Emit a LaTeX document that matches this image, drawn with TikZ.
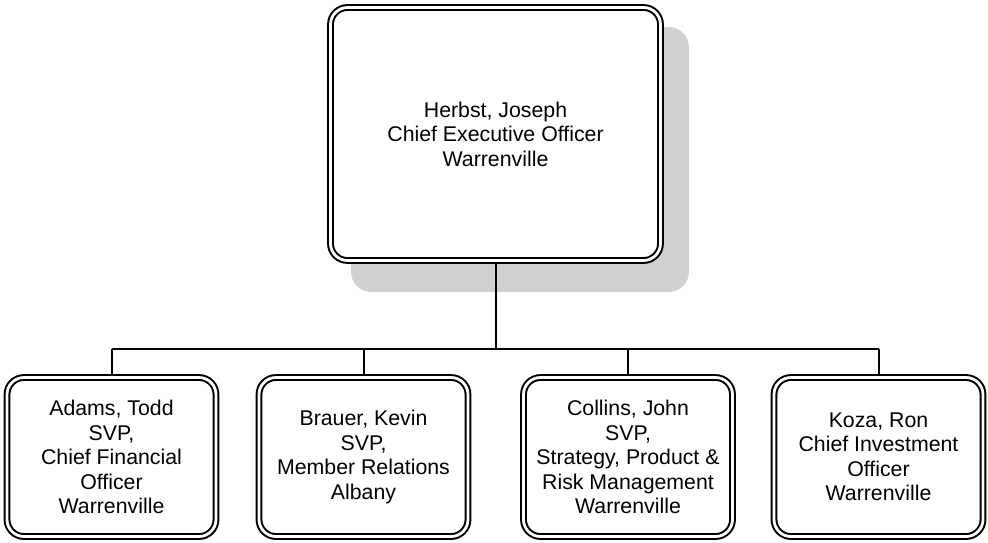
\documentclass[tikz,border=0pt]{standalone}
\usepackage{fontspec}
\setmainfont{Liberation Sans}
\usetikzlibrary{backgrounds,calc}
\definecolor{shadowgray}{HTML}{D0D0D0}
\begin{document}
\begin{tikzpicture}[x=1pt,y=-1pt,
  orgbox/.style={draw=black, double=white, double distance=2.8pt, line width=2pt,
    rounded corners=17pt, outer sep=3.4pt, inner sep=0pt, align=center, fill=white,
    font=\fontsize{21.3}{24.5}\selectfont},
  topbox/.style={orgbox, minimum width=330pt, minimum height=253pt},
  subbox/.style={orgbox, minimum width=209pt, minimum height=159pt},
  shadowfill/.style={fill=shadowgray, rounded corners=20pt},
  link/.style={draw=black, line width=2pt}]
\useasboundingbox (0,0) rectangle (988,542);
\node[topbox] (ceo) at (495.5,134) {Herbst, Joseph\\Chief Executive Officer\\Warrenville};
\node[subbox] (adams) at (111.5,457) {Adams, Todd\\SVP,\\Chief Financial\\Officer\\Warrenville};
\node[subbox] (brauer) at (363.5,457) {Brauer, Kevin\\SVP,\\Member Relations\\Albany};
\node[subbox] (collins) at (628,457) {Collins, John\\SVP,\\Strategy, Product \&\\Risk Management\\Warrenville};
\node[subbox] (koza) at (878.5,457) {Koza, Ron\\Chief Investment\\Officer\\Warrenville};
\coordinate (bar) at (495.5,349);
\begin{scope}[on background layer]
  \fill[shadowfill] ($(ceo.north west)+(24,23)$) rectangle ($(ceo.south east)+(25,28)$);
  \draw[link] (ceo.south) -- (bar);
  \draw[link] (bar -| adams.north) -- (bar -| koza.north);
  \draw[link] (bar -| adams.north) -- (adams.north);
  \draw[link] (bar -| brauer.north) -- (brauer.north);
  \draw[link] (bar -| collins.north) -- (collins.north);
  \draw[link] (bar -| koza.north) -- (koza.north);
\end{scope}
\end{tikzpicture}
\end{document}
